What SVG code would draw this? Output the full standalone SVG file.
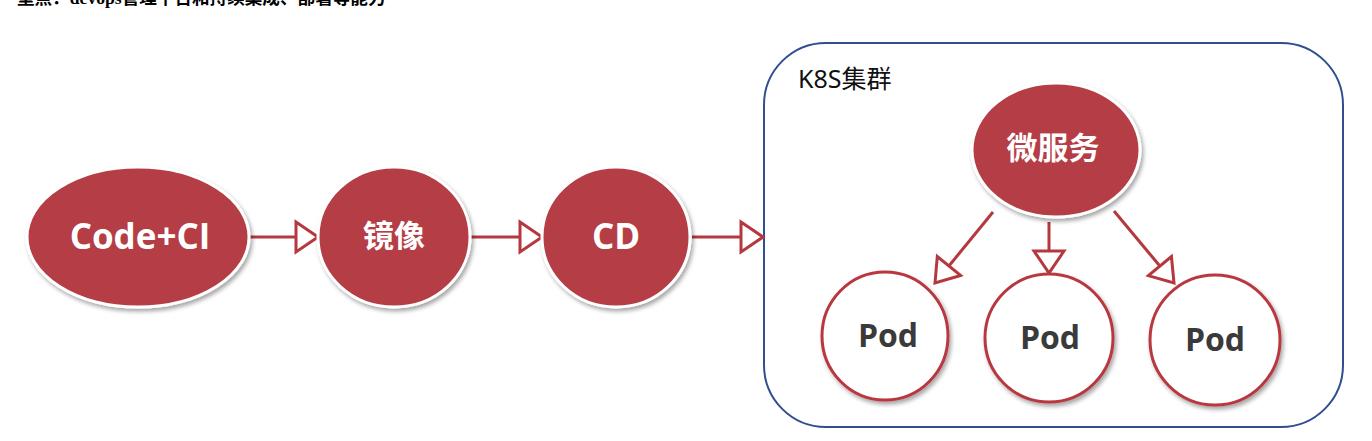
<svg xmlns="http://www.w3.org/2000/svg" width="1372" height="441" viewBox="0 0 1372 441">
<defs>
<filter id="sh" x="-20%" y="-20%" width="140%" height="140%">
<feDropShadow dx="2" dy="3" stdDeviation="2" flood-color="#000" flood-opacity="0.35"/>
</filter>
<marker id="tri" markerUnits="userSpaceOnUse" markerWidth="30" markerHeight="36" refX="22" refY="15" orient="auto" viewBox="-3 -3 30 36">
<path d="M0,0 L22,15 L0,30 Z" fill="#fff" stroke="#b5383f" stroke-width="3" stroke-linejoin="miter"/>
</marker>
<style>
.hdr{font-family:"Liberation Serif","Noto Sans CJK SC",serif;font-weight:bold;font-size:17.6px;fill:#000}
.red{fill:#b53d45;stroke:#fff;stroke-width:3;filter:url(#sh)}
.pod{fill:#fff;stroke:#b8373f;stroke-width:3;filter:url(#sh)}
.wt{font-family:"Open Sans","Noto Sans CJK SC",sans-serif;font-weight:bold;fill:#fff;text-anchor:middle}
.pt{font-family:"Open Sans",sans-serif;font-weight:bold;fill:#3a3a3a;font-size:32px;text-anchor:middle}
.lbl{font-family:"Noto Sans","Noto Sans CJK SC",sans-serif;font-size:25px;fill:#111}
.conn{stroke:#b5383f;stroke-width:3;fill:none;marker-end:url(#tri)}
</style>
</defs>
<rect width="1372" height="441" fill="#fff"/>
<text class="hdr" x="17" y="4">重点：devops管理平台和持续集成、部署等能力</text>
<g id="k8s">
<rect x="764" y="43" width="579" height="384" rx="62" ry="62" fill="#fff" stroke="#2f4f8f" stroke-width="2"/>
<text class="lbl" x="798" y="88">K8S集群</text>
</g>
<g id="connectors">
<line class="conn" x1="250" y1="237" x2="318" y2="237"/>
<line class="conn" x1="470" y1="237" x2="542" y2="237"/>
<line class="conn" x1="692" y1="237" x2="763" y2="237"/>
<line class="conn" x1="993" y1="212" x2="935" y2="283"/>
<line class="conn" x1="1049" y1="222" x2="1049" y2="273"/>
<line class="conn" x1="1114" y1="211" x2="1174" y2="283"/>
</g>
<g id="code-ci">
<ellipse class="red" cx="138" cy="237" rx="111" ry="70"/>
<text class="wt" x="140" y="249" font-size="35">Code+CI</text>
</g>
<g id="image">
<ellipse class="red" cx="394" cy="237" rx="76" ry="70"/>
<text class="wt" x="394" y="247" font-size="31">镜像</text>
</g>
<g id="cd">
<ellipse class="red" cx="616" cy="237" rx="74" ry="70"/>
<text class="wt" x="616" y="249" font-size="35">CD</text>
</g>
<g id="microservice">
<ellipse class="red" cx="1056" cy="150" rx="84" ry="67"/>
<text class="wt" x="1053" y="159" font-size="31">微服务</text>
</g>
<g id="pod1">
<ellipse class="pod" cx="885" cy="336" rx="63" ry="64"/>
<text class="pt" x="888" y="347">Pod</text>
</g>
<g id="pod2">
<ellipse class="pod" cx="1049" cy="338" rx="64" ry="64"/>
<text class="pt" x="1050" y="349">Pod</text>
</g>
<g id="pod3">
<ellipse class="pod" cx="1215" cy="340" rx="65" ry="65"/>
<text class="pt" x="1215" y="351">Pod</text>
</g>
</svg>
